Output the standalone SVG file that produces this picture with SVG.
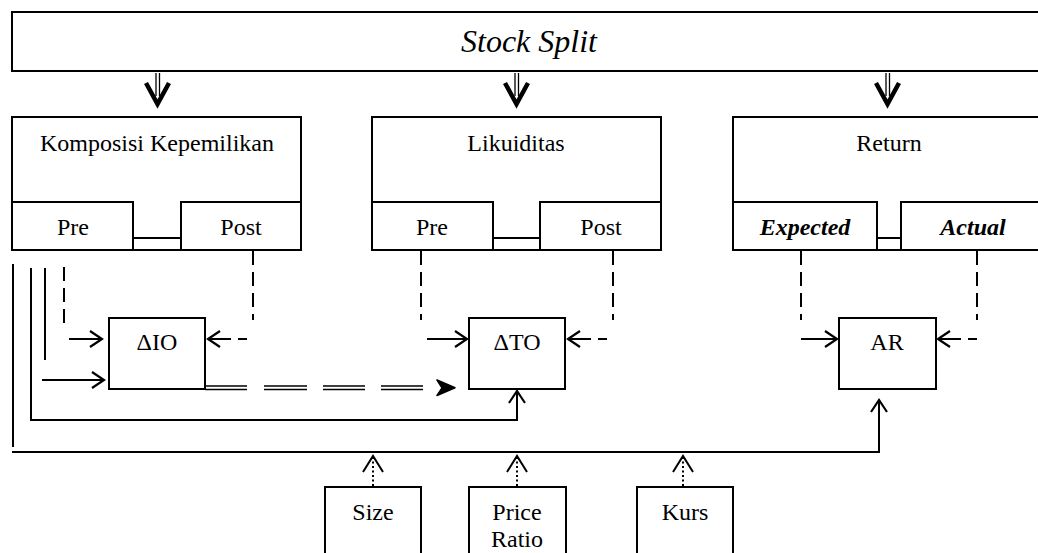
<svg xmlns="http://www.w3.org/2000/svg" width="1038" height="553" viewBox="0 0 1038 553">
<style>
  .box { fill: #fff; stroke: #000; stroke-width: 2; }
  .ln { fill: none; stroke: #000; stroke-width: 2; }
  .dash { fill: none; stroke: #000; stroke-width: 2; stroke-dasharray: 14 7; }
  .dot { fill: none; stroke: #000; stroke-width: 2; stroke-dasharray: 2 2.5; }
  .thin { fill: none; stroke: #000; stroke-width: 1.3; }
  .bold { fill: none; stroke: #000; stroke-width: 4.5; stroke-linejoin: miter; stroke-miterlimit: 10; }
  text { font-family: "Liberation Serif", "Times New Roman", serif; font-size: 24px; fill: #000; text-anchor: middle; }
  .it { font-style: italic; }
  .bi { font-style: italic; font-weight: bold; }
</style>
<defs>
  <marker id="open" markerUnits="userSpaceOnUse" markerWidth="18" markerHeight="20" viewBox="0 0 18 20" refX="15" refY="10" orient="auto">
    <path d="M3,2 L15,10 L3,18" fill="none" stroke="#000" stroke-width="2.2" stroke-dasharray="none"/>
  </marker>
</defs>

<g id="stock-split">
  <rect class="box" x="12" y="12" width="1040" height="59"/>
  <text class="it" x="529" y="52" style="font-size:32px">Stock Split</text>
</g>

<g id="komposisi">
  <rect class="box" x="12" y="117" width="289" height="133"/>
  <text x="157" y="151">Komposisi Kepemilikan</text>
</g>
<g id="komposisi-pre">
  <rect class="box" x="12" y="202" width="121" height="48"/>
  <text x="73" y="235">Pre</text>
</g>
<g id="komposisi-post">
  <rect class="box" x="181" y="202" width="120" height="48"/>
  <text x="241" y="235">Post</text>
</g>

<g id="likuiditas">
  <rect class="box" x="372" y="117" width="289" height="133"/>
  <text x="516" y="151">Likuiditas</text>
</g>
<g id="likuiditas-pre">
  <rect class="box" x="372" y="202" width="121" height="48"/>
  <text x="432" y="235">Pre</text>
</g>
<g id="likuiditas-post">
  <rect class="box" x="540" y="202" width="121" height="48"/>
  <text x="601" y="235">Post</text>
</g>

<g id="return">
  <rect class="box" x="733" y="117" width="312" height="133"/>
  <text x="889" y="151">Return</text>
</g>
<g id="return-expected">
  <rect class="box" x="733" y="202" width="144" height="48"/>
  <text class="bi" x="805" y="235">Expected</text>
</g>
<g id="return-actual">
  <rect class="box" x="901" y="202" width="144" height="48"/>
  <text class="bi" x="973" y="235">Actual</text>
</g>

<g id="dIO">
  <rect class="box" x="109" y="318" width="96" height="71"/>
  <text x="157" y="350">ΔIO</text>
</g>
<g id="dTO">
  <rect class="box" x="469" y="318" width="96" height="71"/>
  <text x="517" y="350">ΔTO</text>
</g>
<g id="AR">
  <rect class="box" x="839" y="318" width="97" height="71"/>
  <text x="887" y="350">AR</text>
</g>

<g id="size">
  <rect class="box" x="325" y="487" width="96" height="80"/>
  <text x="373" y="520">Size</text>
</g>
<g id="price-ratio">
  <rect class="box" x="469" y="487" width="97" height="80"/>
  <text x="517" y="520">Price</text>
  <text x="517" y="547">Ratio</text>
</g>
<g id="kurs">
  <rect class="box" x="637" y="487" width="96" height="80"/>
  <text x="685" y="520">Kurs</text>
</g>

<g id="connectors">
  <!-- top double-stem arrows -->
  <path class="thin" d="M156,73 V96 M159.5,73 V96"/>
  <polyline class="bold" points="146,83 157.5,104 169,83"/>
  <path class="thin" d="M515,73 V96 M518.5,73 V96"/>
  <polyline class="bold" points="505,83 516.5,104 528,83"/>
  <path class="thin" d="M886,73 V96 M889.5,73 V96"/>
  <polyline class="bold" points="876,83 887.5,104 899,83"/>

  <!-- pre/post connectors -->
  <line class="ln" x1="133" y1="238" x2="181" y2="238"/>
  <line class="ln" x1="493" y1="238" x2="540" y2="238"/>
  <line class="ln" x1="877" y1="238" x2="901" y2="238"/>

  <!-- left bundle -->
  <line class="ln" x1="13" y1="264" x2="13" y2="447"/>
  <polyline class="ln" points="12,452 879,452 879,400" marker-end="url(#open)"/>
  <polyline class="ln" points="31,268 31,420 517,420 517,391" marker-end="url(#open)"/>
  <line class="ln" x1="45" y1="268" x2="45" y2="360"/>
  <line class="ln" x1="42" y1="380" x2="104" y2="380" marker-end="url(#open)"/>
  <line class="dash" x1="64" y1="267" x2="64" y2="325"/>
  <line class="ln" x1="69" y1="339" x2="102" y2="339" marker-end="url(#open)"/>

  <!-- Post (komposisi) to dIO -->
  <line class="dash" x1="253" y1="251" x2="253" y2="320"/>
  <line class="ln" x1="247" y1="339" x2="238" y2="339"/>
  <line class="ln" x1="231" y1="339" x2="208" y2="339" marker-end="url(#open)"/>

  <!-- dIO to dTO double dashed -->
  <path class="ln" style="stroke-width:1.4" d="M205,386 H247 M264,386 H307 M323,386 H365 M381,386 H423 M205,389.5 H247 M264,389.5 H307 M323,389.5 H365 M381,389.5 H423"/>
  <path d="M437,380 L455,387.8 L437,395.5 L442,387.8 Z" fill="#000" stroke="#000" stroke-width="1.5" stroke-linejoin="round"/>

  <!-- Likuiditas to dTO -->
  <line class="dash" x1="421" y1="251" x2="421" y2="320"/>
  <line class="ln" x1="427" y1="339" x2="467" y2="339" marker-end="url(#open)"/>
  <line class="dash" x1="613" y1="251" x2="613" y2="320"/>
  <line class="ln" x1="607" y1="339" x2="598" y2="339"/>
  <line class="ln" x1="591" y1="339" x2="568" y2="339" marker-end="url(#open)"/>

  <!-- Return to AR -->
  <line class="dash" x1="801" y1="251" x2="801" y2="320"/>
  <line class="ln" x1="801" y1="339" x2="837" y2="339" marker-end="url(#open)"/>
  <line class="dash" x1="977" y1="251" x2="977" y2="320"/>
  <line class="ln" x1="977" y1="339" x2="968" y2="339"/>
  <line class="ln" x1="961" y1="339" x2="938" y2="339" marker-end="url(#open)"/>

  <!-- control variables dotted -->
  <line class="dot" x1="373" y1="486" x2="373" y2="458"/>
  <polyline class="ln" points="363,472 373,456 383,472"/>
  <line class="dot" x1="517" y1="486" x2="517" y2="458"/>
  <polyline class="ln" points="507,472 517,456 527,472"/>
  <line class="dot" x1="683" y1="486" x2="683" y2="458"/>
  <polyline class="ln" points="673,472 683,456 693,472"/>
</g>
</svg>
